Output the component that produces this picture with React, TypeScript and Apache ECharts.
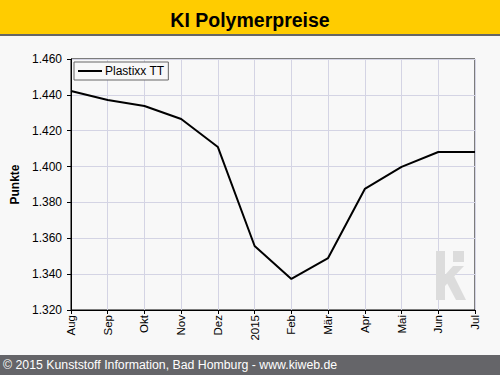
import React, { useEffect, useRef } from "react";
import * as echarts from "echarts";

const categories = ["Aug", "Sep", "Okt", "Nov", "Dez", "2015", "Feb", "Mär", "Apr", "Mai", "Jun", "Jul"];
const plastixxTT = [1442.2, 1437.1, 1433.8, 1426.5, 1410.9, 1355.7, 1337.3, 1349.0, 1387.5, 1399.8, 1408.1, 1408.1];
const seriesName = "Plastixx TT";
const titleText = "KI Polymerpreise";
const footerText = "© 2015 Kunststoff Information, Bad Homburg - www.kiweb.de";
const yAxisName = "Punkte";

const FONT = "'Liberation Sans', Arial, sans-serif";

function fmt(v: number): string {
  const r = Math.round(v);
  return `${Math.floor(r / 1000)}.${String(r % 1000).padStart(3, "0")}`;
}

export default function App() {
  const ref = useRef<HTMLDivElement>(null);
  useEffect(() => {
    if (!ref.current) return;
    document.body.style.margin = "0";
    const chart = echarts.init(ref.current, undefined, { renderer: "svg" });
    const wm = "#dcdcdc";
    chart.setOption({
      animation: false,
      backgroundColor: "#f8f8f8",
      textStyle: { fontFamily: FONT },
      title: {
        text: titleText,
        left: "center",
        top: 5,
        textStyle: { fontFamily: FONT, fontSize: 19.5, fontWeight: "bold", color: "#000" },
      },
      graphic: [
        { type: "rect", shape: { x: 0, y: 0, width: 500, height: 34 }, style: { fill: "#ffcc00" }, z: -10 },
        { type: "rect", shape: { x: 0, y: 34, width: 500, height: 2 }, style: { fill: "#666666" }, z: -10 },
        { type: "rect", shape: { x: 0, y: 355, width: 500, height: 20 }, style: { fill: "#656569" }, z: 10 },
        {
          type: "text",
          x: 3,
          y: 365,
          style: { text: footerText, fill: "#ffffff", font: `12.3px ${FONT}`, verticalAlign: "middle" },
          z: 11,
        },
        { type: "rect", shape: { x: 436, y: 251, width: 9, height: 49 }, style: { fill: wm }, z: 1 },
        { type: "rect", shape: { x: 453, y: 251, width: 11, height: 11 }, style: { fill: wm }, z: 1 },
        {
          type: "polygon",
          shape: { points: [[445, 275], [445, 286], [464, 266], [453, 266]] },
          style: { fill: wm },
          z: 1,
        },
        {
          type: "polygon",
          shape: { points: [[447, 283], [454, 276], [466, 300], [456, 300]] },
          style: { fill: wm },
          z: 1,
        },
      ],
      legend: {
        left: 74,
        top: 62,
        orient: "vertical",
        backgroundColor: "#f8f8f8",
        borderColor: "#666",
        borderWidth: 1,
        borderRadius: 0,
        padding: [3, 4, 3, 4],
        itemWidth: 24,
        itemHeight: 10,
        itemGap: 0,
        textStyle: { fontFamily: FONT, fontSize: 12, color: "#000", padding: [0, 0, 0, -2] },
        data: [{ name: seriesName, icon: "path://M0,4 L24,4 L24,6 L0,6 Z" }],
      },
      grid: {
        left: 71,
        right: 25,
        top: 59,
        bottom: 65,
        outerBoundsMode: "none",
        containLabel: false,
        show: true,
        backgroundColor: "#f8f8f8",
        borderColor: "#000",
        borderWidth: 1,
      },
      xAxis: {
        type: "category",
        data: categories,
        boundaryGap: false,
        axisLine: { lineStyle: { color: "#000", width: 1 } },
        axisTick: { show: true, length: 4, alignWithLabel: true, lineStyle: { color: "#000" } },
        axisLabel: { rotate: 90, fontSize: 11.5, color: "#000", fontFamily: FONT, margin: 5, interval: 0 },
        splitLine: { show: true, lineStyle: { color: "#d4d4e4", width: 1 } },
      },
      yAxis: {
        type: "value",
        min: 1320,
        max: 1460,
        interval: 20,
        name: yAxisName,
        nameLocation: "middle",
        nameRotate: 90,
        nameGap: 45,
        nameTextStyle: { fontFamily: FONT, fontSize: 12, fontWeight: "bold", color: "#000" },
        axisLine: { show: true, lineStyle: { color: "#000", width: 1 } },
        axisTick: { show: true, length: 4, lineStyle: { color: "#000" } },
        axisLabel: { fontSize: 12, color: "#000", fontFamily: FONT, margin: 9, formatter: (v: number) => fmt(v) },
        splitLine: { show: true, lineStyle: { color: "#d4d4e4", width: 1 } },
      },
      series: [
        {
          name: seriesName,
          type: "line",
          data: plastixxTT,
          symbol: "none",
          lineStyle: { color: "#000", width: 2 },
          itemStyle: { color: "#000" },
          z: 5,
        },
      ],
    });
    return () => chart.dispose();
  }, []);
  return <div ref={ref} style={{ width: 500, height: 375, position: "absolute", left: 0, top: 0 }} />;
}
